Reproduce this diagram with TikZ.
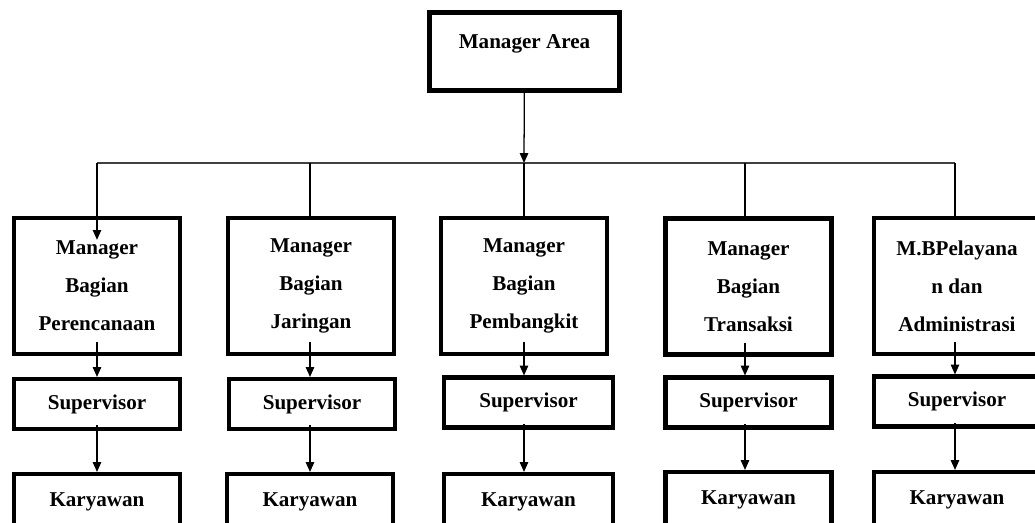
\documentclass[tikz,border=0pt]{standalone}
\usepackage{fontspec}
\setmainfont{Liberation Serif}
\usetikzlibrary{arrows.meta}

\tikzset{
  box/.style={draw, line width=3.2pt, minimum width=4.14cm, align=center,
    font=\bfseries\fontsize{15pt}{27pt}\selectfont},
  mgrbox/.style={box, minimum height=3.39cm},
  supbox/.style={box, minimum height=1.24cm},
  empbox/.style={box, minimum height=1.39cm},
  link/.style={line width=0.9pt},
  arr/.style={link, -{Triangle[length=7pt,width=6pt]}},
}

\begin{document}
\begin{tikzpicture}[x=0.025cm, y=-0.025cm]
    \useasboundingbox (0,0) rectangle (1035,522);
    \clip (0,0) rectangle (1035,522);

    \node[box, minimum width=4.76cm, minimum height=1.96cm, text height=10pt, text depth=14.3pt] (area) at (524.5, 51.5) {Manager Area};

    \node[mgrbox] (m1) at (97, 286) {Manager\\Bagian\\Perencanaan};
    \node[mgrbox] (m2) at (311, 286) {Manager\\Bagian\\Jaringan};
    \node[mgrbox] (m3) at (524, 286) {Manager\\Bagian\\Pembangkit};
    \node[mgrbox] (m4) at (748.5, 286.5) {Manager\\Bagian\\Transaksi};
    \node[mgrbox] (m5) at (957, 286) {M.BPelayana\\n dan\\Administrasi};

    \node[supbox] (s1) at (97, 404) {Supervisor};
    \node[supbox] (s2) at (312, 404) {Supervisor};
    \node[supbox, minimum width=4.22cm] (s3) at (528.5, 402.5) {Supervisor};
    \node[supbox] (s4) at (748.5, 402.5) {Supervisor};
    \node[supbox] (s5) at (957, 401.5) {Supervisor};

    \node[empbox] (k1) at (97, 502) {Karyawan};
    \node[empbox] (k2) at (310, 502) {Karyawan};
    \node[empbox, minimum width=4.22cm] (k3) at (528.5, 502) {Karyawan};
    \node[empbox] (k4) at (748.5, 500) {Karyawan};
    \node[empbox] (k5) at (957, 500) {Karyawan};

    % bus line under the area manager
    \coordinate (bus) at (524, 163);
    \coordinate (j1) at (97, 163);
    \coordinate (j2) at (310, 163);
    \coordinate (j3) at (524, 163);
    \coordinate (j4) at (745, 163);
    \coordinate (j5) at (955, 163);

    \draw[arr] (area) -- (bus);
    \draw[link, black!75] (j1) -- (j5);
    \draw[arr] (j1) -- ([yshift=-17pt]m1.north);
    \draw[link] (j2) -- (j2 |- m2.north);
    \draw[link] (j3) -- (j3 |- m3.north);
    \draw[link] (j4) -- (j4 |- m4.north);
    \draw[link] (j5) -- (j5 |- m5.north);

    \draw[arr] ([yshift=10pt]m1.south) -- (m1.south |- s1.north);
    \draw[arr] ([yshift=10pt]m2.south -| j2) -- (j2 |- s2.north);
    \draw[arr] ([yshift=10pt]m3.south) -- (m3.south |- s3.north);
    \draw[arr] ([yshift=10pt]m4.south -| j4) -- (j4 |- s4.north);
    \draw[arr] ([yshift=10pt]m5.south -| j5) -- (j5 |- s5.north);

    \draw[arr] ([yshift=4pt]s1.south) -- (s1.south |- k1.north);
    \draw[arr] ([yshift=4pt]s2.south -| j2) -- (j2 |- k2.north);
    \draw[arr] ([yshift=4pt]s3.south -| j3) -- (j3 |- k3.north);
    \draw[arr] ([yshift=4pt]s4.south -| j4) -- (j4 |- k4.north);
    \draw[arr] ([yshift=4pt]s5.south -| j5) -- (j5 |- k5.north);
\end{tikzpicture}
\end{document}
